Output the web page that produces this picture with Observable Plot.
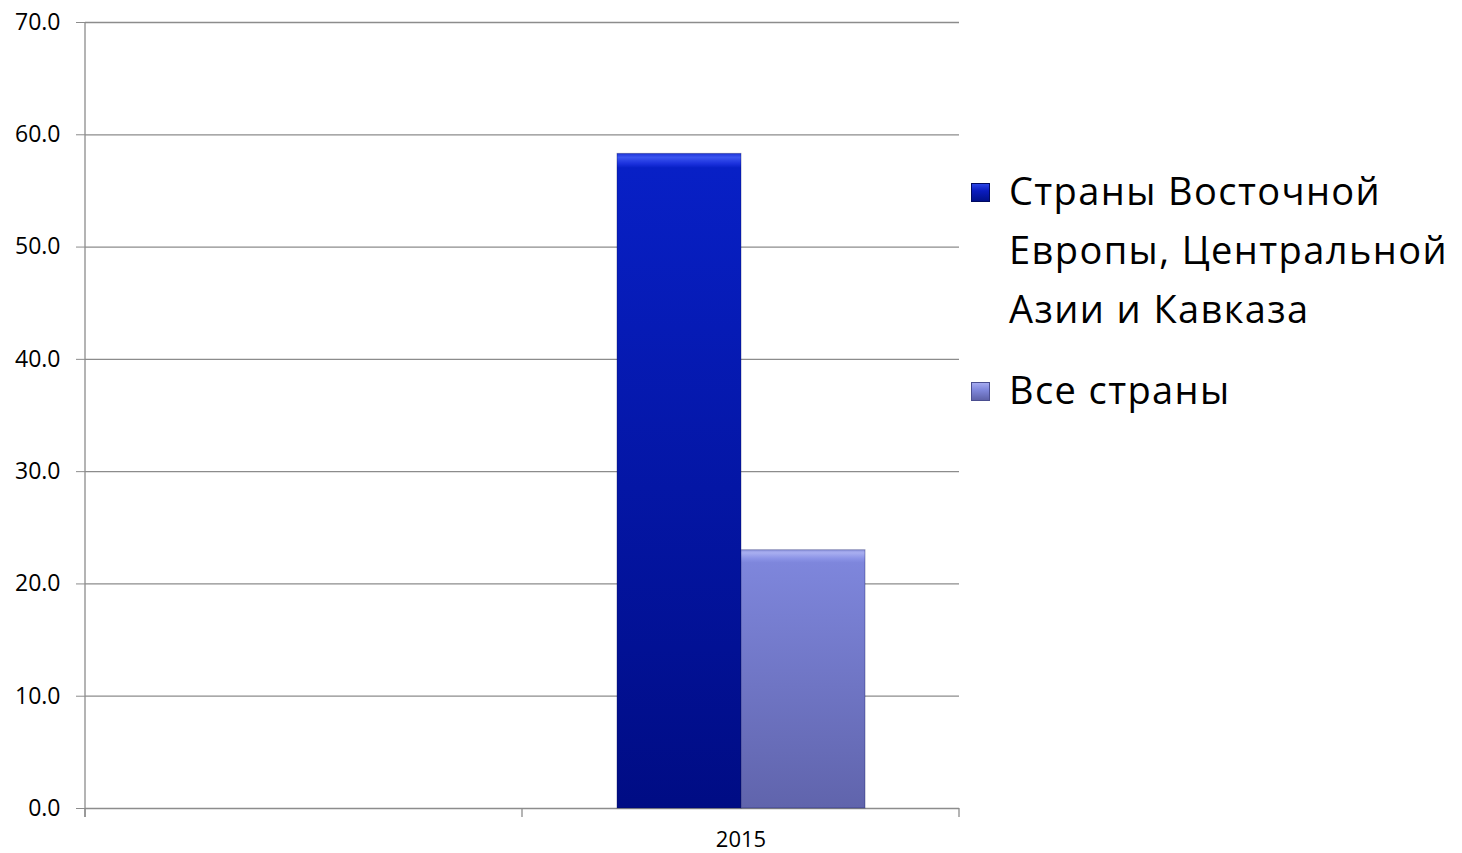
<!DOCTYPE html>
<html><head><meta charset="utf-8">
<script src="https://cdn.jsdelivr.net/npm/d3@7"></script>
<script src="https://cdn.jsdelivr.net/npm/@observablehq/plot@0.6"></script>
<style>
body{margin:0;background:#fff;}
#wrap{position:relative;width:1462px;height:853px;overflow:hidden;}
#legend{position:absolute;left:971px;top:161px;font-family:"Open Sans",sans-serif;font-size:38px;letter-spacing:1.4px;color:#000;line-height:59px;}
.item{display:flex;align-items:flex-start;margin-bottom:22px;}
.sw{width:19px;height:19px;margin-top:22px;margin-right:19px;flex:none;box-sizing:border-box;}
.txt{width:480px;}
</style></head><body>
<div id="wrap"><div id="chart"></div><div id="legend"></div></div>
<script>
const years = ["", "2015"];
const series = ["Страны Восточной Европы, Центральной Азии и Кавказа", "Все страны"];
const valuesBlank = [null, null];
const values2015 = [58.3, 23.0];
const yTicks = [0, 10, 20, 30, 40, 50, 60, 70];

const valuesByYear = [valuesBlank, values2015];
const data = years.flatMap((yr, j) => series.map((s, i) => ({year: yr, series: s, value: valuesByYear[j][i]})));
const gradIds = ["gA", "gB"];

const chart = Plot.plot({
  width: 970, height: 853,
  marginLeft: 85, marginRight: 11, marginTop: 22, marginBottom: 45,
  style: {fontFamily: "Open Sans, sans-serif", fontSize: "23px", color: "#000", background: "#fff", overflow: "visible"},
  fx: {domain: years, padding: 0, label: null},
  x: {domain: series, paddingInner: 0, paddingOuter: 0.755, axis: null},
  y: {domain: [0, 70], label: null},
  color: {domain: series, range: gradIds.map(g => `url(#${g})`)},
  marks: [
    Plot.gridY(yTicks, {stroke: "#8c8c8c", strokeOpacity: 1, strokeWidth: 1.3}),
    Plot.axisY(yTicks, {tickFormat: d => d.toFixed(1), tickSize: 9, tickPadding: 16, stroke: "#8c8c8c", fontSize: 23, label: null}),
    Plot.axisFx({anchor: "bottom", tickSize: 0, tickPadding: 23, fontSize: 22, label: null}),
    Plot.barY(data, {fx: "year", x: "series", y: "value", fill: "series", stroke: "#0a0f50", strokeOpacity: 0.35, strokeWidth: 1})
  ]
});
document.getElementById("chart").appendChild(chart);

// gradients
const svg = d3.select(chart);
const defs = svg.insert("defs", ":first-child");
const gradStops = [
  [["0%", "#1d33d8"], ["0.6%", "#3b55f0"], ["1.6%", "#1a30dc"], ["2.2%", "#0820c6"], ["100%", "#000c84"]],
  [["0%", "#9096e0"], ["1.2%", "#a8aef0"], ["3.5%", "#8a92e6"], ["5%", "#7e86dc"], ["100%", "#6064ac"]]
];
gradIds.forEach((id, i) => {
  const g = defs.append("linearGradient").attr("id", id).attr("x1", 0).attr("y1", 0).attr("x2", 0).attr("y2", 1);
  gradStops[i].forEach(([o, c]) => g.append("stop").attr("offset", o).attr("stop-color", c));
});

// y axis line and category boundary ticks from Plot's scales
const fx = chart.scale("fx");
const y = chart.scale("y");
const x0 = fx.apply(years[0]);
const edges = years.map(d => fx.apply(d)).concat([fx.apply(years[years.length - 1]) + fx.bandwidth]);
const g = svg.append("g").attr("stroke", "#8c8c8c").attr("stroke-width", 1.3);
g.append("line").attr("x1", x0).attr("x2", x0).attr("y1", y.apply(70)).attr("y2", y.apply(0) + 9);
edges.forEach(e => g.append("line").attr("x1", e).attr("x2", e).attr("y1", y.apply(0)).attr("y2", y.apply(0) + 9));

// legend
const swatchCss = [
  "background:linear-gradient(#2a44e6,#0a1cbf 40%,#00108a);border:1px solid #000a60;",
  "background:linear-gradient(#a5aaf0,#8088dc 40%,#5e62a8);border:1px solid #4a4e90;"
];
const leg = d3.select("#legend");
series.forEach((s, i) => {
  const it = leg.append("div").attr("class", "item");
  it.append("div").attr("class", "sw").attr("style", swatchCss[i]);
  it.append("div").attr("class", "txt").text(s);
});
</script>
</body></html>
